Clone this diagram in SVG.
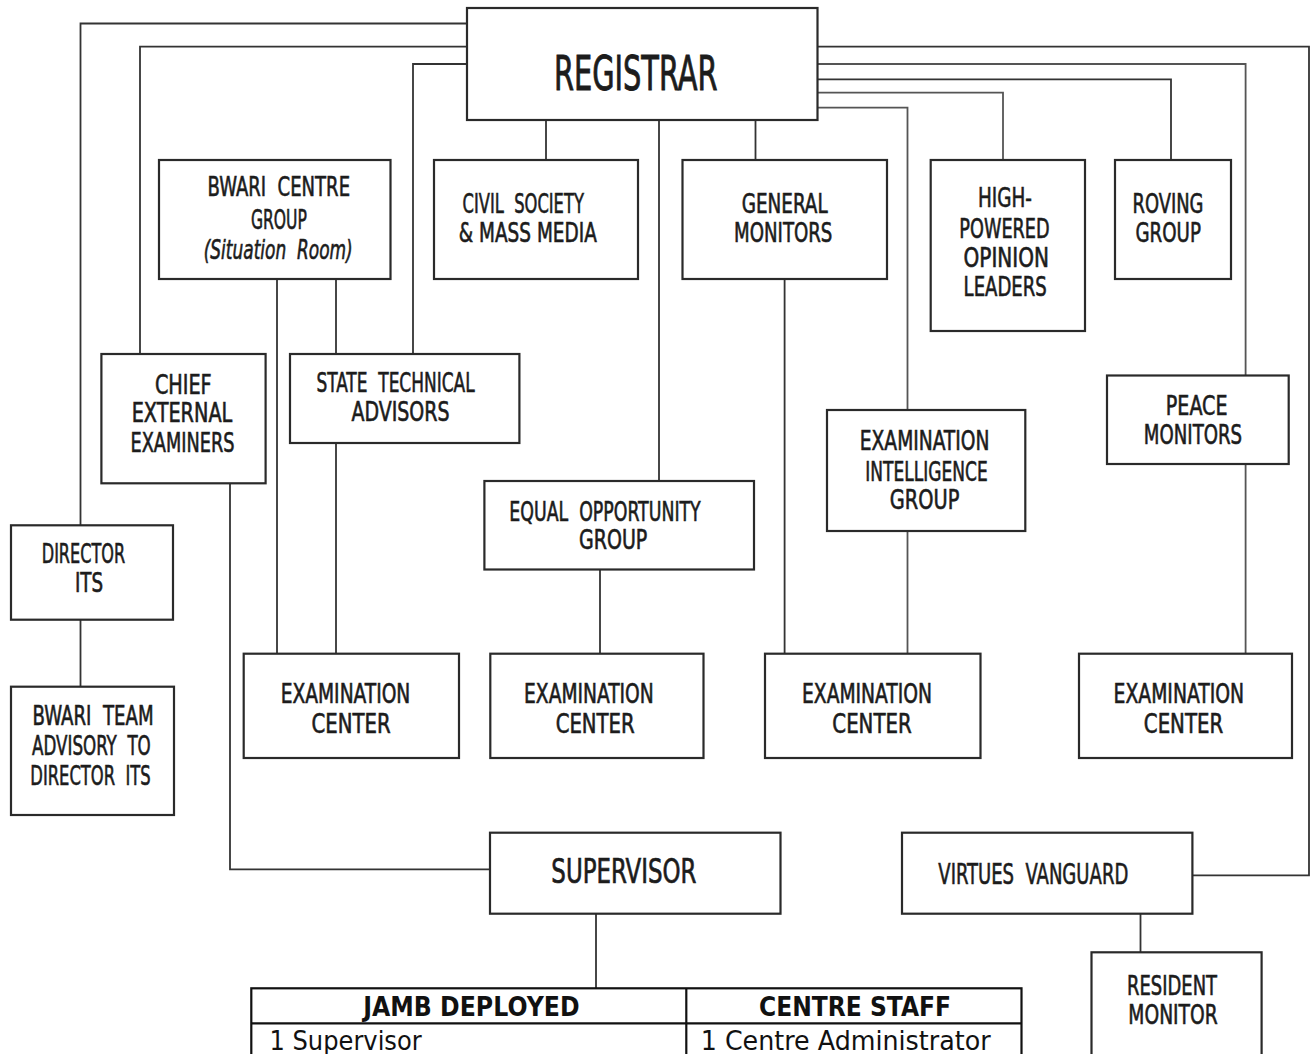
<svg xmlns="http://www.w3.org/2000/svg" width="1312" height="1054" viewBox="0 0 1312 1054">
<style>
.bg{fill:#ffffff}
.box{fill:#ffffff;stroke:#2a2a2a;stroke-width:2.2}
.ln{fill:none;stroke:#333333;stroke-width:1.8}
.lg{fill:none;stroke:#555555;stroke-width:1.8}
.t{font-family:"DejaVu Sans Condensed","DejaVu Sans",sans-serif;font-size:26px;fill:#1c1c1c;stroke:#1c1c1c;stroke-width:0.6;text-anchor:middle;white-space:pre}
.big{font-size:48px;stroke-width:0.9}
.sup{font-size:34px;stroke-width:0.7}
.it{font-style:italic}
.th{font-family:"DejaVu Sans","Liberation Sans",sans-serif;font-size:26px;font-weight:bold;fill:#111;text-anchor:middle}
.td{font-family:"DejaVu Sans","Liberation Sans",sans-serif;font-size:26px;fill:#111}
.tb{fill:none;stroke:#111;stroke-width:2.2}
</style>
<rect class="bg" x="0" y="0" width="1312" height="1054"/>

<g id="connectors">
<path class="ln" d="M467,23.5 H80.5 V525.3"/>
<path class="ln" d="M467,46.7 H140 V354"/>
<path class="ln" d="M467,64 H413 V354"/>
<path class="ln" d="M546,120 V160"/>
<path class="ln" d="M659,120 V481"/>
<path class="ln" d="M755.5,120 V160"/>
<path class="ln" d="M817.5,46.7 H1309 V875.3 H1192.4"/>
<path class="lg" d="M817.5,64 H1245.6 V375.5"/>
<path class="lg" d="M1245.6,464 V653.7"/>
<path class="ln" d="M817.5,79.3 H1171 V160"/>
<path class="lg" d="M817.5,92.7 H1003 V160"/>
<path class="lg" d="M817.5,107.7 H907.5 V410"/>
<path class="lg" d="M907.5,531 V653.7"/>
<path class="ln" d="M277,279 V653.7"/>
<path class="ln" d="M336,279 V354"/>
<path class="ln" d="M336,443 V653.7"/>
<path class="ln" d="M784.6,279 V653.7"/>
<path class="ln" d="M600,569.5 V653.7"/>
<path class="ln" d="M230,483.3 V869.3 H490"/>
<path class="ln" d="M80.5,619.7 V686.7"/>
<path class="ln" d="M596,913.7 V988.3"/>
<path class="ln" d="M1140.5,913.7 V952.3"/>
</g>

<g id="registrar">
<rect class="box" x="467" y="8" width="350.5" height="112"/>
<text class="t big" x="635.7" y="90" textLength="163.6" lengthAdjust="spacingAndGlyphs">REGISTRAR</text>
</g>

<g id="bwari-centre">
<rect class="box" x="159" y="160" width="231.5" height="119"/>
<text class="t" x="278.8" y="196" textLength="142.5" lengthAdjust="spacingAndGlyphs">BWARI  CENTRE</text>
<text class="t" x="278.9" y="229" textLength="56" lengthAdjust="spacingAndGlyphs">GROUP</text>
<text class="t it" x="278.2" y="259" textLength="149" lengthAdjust="spacingAndGlyphs">(Situation  Room)</text>
</g>

<g id="civil-society">
<rect class="box" x="434" y="160" width="204" height="119"/>
<text class="t" x="523.2" y="213" textLength="121.3" lengthAdjust="spacingAndGlyphs">CIVIL  SOCIETY</text>
<text class="t" x="527.8" y="242" textLength="138" lengthAdjust="spacingAndGlyphs">&amp; MASS MEDIA</text>
</g>

<g id="general-monitors">
<rect class="box" x="682.5" y="160" width="204.5" height="119"/>
<text class="t" x="784.7" y="213" textLength="86" lengthAdjust="spacingAndGlyphs">GENERAL</text>
<text class="t" x="783.2" y="242" textLength="98.4" lengthAdjust="spacingAndGlyphs">MONITORS</text>
</g>

<g id="high-powered">
<rect class="box" x="930.7" y="160" width="154.3" height="171"/>
<text class="t" x="1005" y="207" textLength="54" lengthAdjust="spacingAndGlyphs">HIGH-</text>
<text class="t" x="1004.5" y="238" textLength="90.3" lengthAdjust="spacingAndGlyphs">POWERED</text>
<text class="t" x="1006.3" y="266.5" textLength="85.4" lengthAdjust="spacingAndGlyphs">OPINION</text>
<text class="t" x="1005.2" y="295.5" textLength="83.2" lengthAdjust="spacingAndGlyphs">LEADERS</text>
</g>

<g id="roving-group">
<rect class="box" x="1115" y="160" width="116" height="119"/>
<text class="t" x="1168" y="213" textLength="71" lengthAdjust="spacingAndGlyphs">ROVING</text>
<text class="t" x="1168.2" y="242" textLength="65.5" lengthAdjust="spacingAndGlyphs">GROUP</text>
</g>

<g id="chief-external">
<rect class="box" x="101.4" y="354" width="164.2" height="129.3"/>
<text class="t" x="183.3" y="394" textLength="56.8" lengthAdjust="spacingAndGlyphs">CHIEF</text>
<text class="t" x="182" y="422" textLength="100.6" lengthAdjust="spacingAndGlyphs">EXTERNAL</text>
<text class="t" x="182.5" y="451.5" textLength="104" lengthAdjust="spacingAndGlyphs">EXAMINERS</text>
</g>

<g id="state-technical">
<rect class="box" x="290" y="354" width="229.4" height="89"/>
<text class="t" x="395.6" y="392" textLength="158.2" lengthAdjust="spacingAndGlyphs">STATE  TECHNICAL</text>
<text class="t" x="400.5" y="420.5" textLength="98" lengthAdjust="spacingAndGlyphs">ADVISORS</text>
</g>

<g id="equal-opportunity">
<rect class="box" x="484.4" y="481" width="269.6" height="88.5"/>
<text class="t" x="605" y="520.5" textLength="191.4" lengthAdjust="spacingAndGlyphs">EQUAL  OPPORTUNITY</text>
<text class="t" x="613.2" y="549" textLength="68.3" lengthAdjust="spacingAndGlyphs">GROUP</text>
</g>

<g id="exam-intelligence">
<rect class="box" x="827" y="410" width="198.3" height="121"/>
<text class="t" x="924.6" y="450" textLength="129.6" lengthAdjust="spacingAndGlyphs">EXAMINATION</text>
<text class="t" x="926.5" y="480.5" textLength="122.4" lengthAdjust="spacingAndGlyphs">INTELLIGENCE</text>
<text class="t" x="924.6" y="509" textLength="69.6" lengthAdjust="spacingAndGlyphs">GROUP</text>
</g>

<g id="peace-monitors">
<rect class="box" x="1107" y="375.5" width="181.7" height="88.5"/>
<text class="t" x="1196.7" y="415" textLength="61.7" lengthAdjust="spacingAndGlyphs">PEACE</text>
<text class="t" x="1193" y="444" textLength="98.3" lengthAdjust="spacingAndGlyphs">MONITORS</text>
</g>

<g id="director-its">
<rect class="box" x="11" y="525.3" width="162" height="94.4"/>
<text class="t" x="83.4" y="563" textLength="83.3" lengthAdjust="spacingAndGlyphs">DIRECTOR</text>
<text class="t" x="89" y="592" textLength="28.2" lengthAdjust="spacingAndGlyphs">ITS</text>
</g>

<g id="bwari-team">
<rect class="box" x="11" y="686.7" width="163" height="128.3"/>
<text class="t" x="93" y="725" textLength="121.2" lengthAdjust="spacingAndGlyphs">BWARI  TEAM</text>
<text class="t" x="91.4" y="755" textLength="118.7" lengthAdjust="spacingAndGlyphs">ADVISORY  TO</text>
<text class="t" x="90.5" y="784.5" textLength="120.4" lengthAdjust="spacingAndGlyphs">DIRECTOR  ITS</text>
</g>

<g id="exam-center-1">
<rect class="box" x="243.7" y="653.7" width="215.3" height="104.3"/>
<text class="t" x="345.5" y="703" textLength="129.7" lengthAdjust="spacingAndGlyphs">EXAMINATION</text>
<text class="t" x="351" y="732.5" textLength="79.2" lengthAdjust="spacingAndGlyphs">CENTER</text>
</g>

<g id="exam-center-2">
<rect class="box" x="490.3" y="653.7" width="213.2" height="104.3"/>
<text class="t" x="588.9" y="703" textLength="129.7" lengthAdjust="spacingAndGlyphs">EXAMINATION</text>
<text class="t" x="595.2" y="732.5" textLength="79.1" lengthAdjust="spacingAndGlyphs">CENTER</text>
</g>

<g id="exam-center-3">
<rect class="box" x="765" y="653.7" width="215.5" height="104.3"/>
<text class="t" x="867" y="703" textLength="130" lengthAdjust="spacingAndGlyphs">EXAMINATION</text>
<text class="t" x="872" y="732.5" textLength="79.3" lengthAdjust="spacingAndGlyphs">CENTER</text>
</g>

<g id="exam-center-4">
<rect class="box" x="1079" y="653.7" width="213" height="104.3"/>
<text class="t" x="1178.8" y="703" textLength="130.5" lengthAdjust="spacingAndGlyphs">EXAMINATION</text>
<text class="t" x="1183.5" y="732.5" textLength="79.3" lengthAdjust="spacingAndGlyphs">CENTER</text>
</g>

<g id="supervisor">
<rect class="box" x="490" y="832.7" width="290.5" height="81"/>
<text class="t sup" x="623.9" y="883" textLength="145.1" lengthAdjust="spacingAndGlyphs">SUPERVISOR</text>
</g>

<g id="virtues-vanguard">
<rect class="box" x="902" y="832.7" width="290.4" height="81"/>
<text class="t" x="1033.3" y="884" style="font-size:28px" textLength="190" lengthAdjust="spacingAndGlyphs">VIRTUES  VANGUARD</text>
</g>

<g id="resident-monitor">
<rect class="box" x="1091.5" y="952.3" width="170.1" height="120"/>
<text class="t" x="1172" y="995" textLength="90" lengthAdjust="spacingAndGlyphs">RESIDENT</text>
<text class="t" x="1173" y="1024" textLength="89.4" lengthAdjust="spacingAndGlyphs">MONITOR</text>
</g>

<g id="staff-table">
<rect class="tb" x="251.3" y="988.3" width="770.2" height="90"/>
<line class="tb" x1="251.3" y1="1023.3" x2="1021.5" y2="1023.3"/>
<line class="tb" x1="686.3" y1="988.3" x2="686.3" y2="1078"/>
<text class="th" x="471.4" y="1015.5" textLength="216.3" lengthAdjust="spacingAndGlyphs">JAMB DEPLOYED</text>
<text class="th" x="855" y="1015.5" textLength="192" lengthAdjust="spacingAndGlyphs">CENTRE STAFF</text>
<text class="td" x="269.4" y="1050" textLength="152.3" lengthAdjust="spacingAndGlyphs">1 Supervisor</text>
<text class="td" x="700.7" y="1050" textLength="289.9" lengthAdjust="spacingAndGlyphs">1 Centre Administrator</text>
</g>
</svg>
